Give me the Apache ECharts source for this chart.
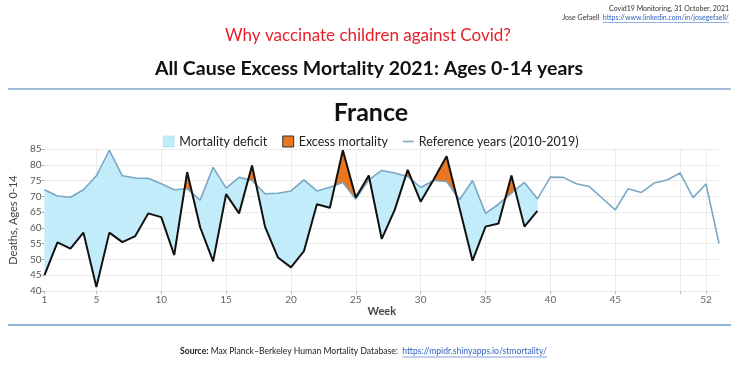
<!DOCTYPE html>
<html>
<head>
<meta charset="utf-8">
<script src="https://cdn.jsdelivr.net/npm/echarts@6/dist/echarts.min.js"></script>
<style>html,body{margin:0;padding:0;background:#fff}#c{width:740px;height:370px}</style>
</head>
<body>
<div id="c"></div>
<script>
// Weeks 1..53
var weeks = [];
for (var i = 1; i <= 53; i++) weeks.push(i);
// Reference years (2010-2019) weekly deaths, ages 0-14
var reference = [72.1,70.1,69.7,72.1,76.5,84.6,76.5,75.8,75.7,74.0,72.1,72.4,68.8,79.2,72.6,76.0,75.0,70.8,71.0,71.7,75.2,71.7,72.9,74.4,69.1,75.2,78.2,77.4,76.3,72.8,75.0,74.7,68.9,75.0,64.6,67.5,71.0,74.4,69.2,76.1,76.0,74.0,73.1,69.4,65.7,72.4,71.2,74.2,75.2,77.4,69.6,73.9,55.1];
// 2021 observed weekly deaths, weeks 1..39
var observed2021 = [45.0,55.4,53.4,58.5,41.3,58.5,55.5,57.4,64.6,63.4,51.4,77.7,60.2,49.4,70.7,64.6,79.8,60.4,50.6,47.5,52.6,67.5,66.4,84.6,69.6,76.6,56.5,65.7,78.4,68.3,75.3,82.7,66.2,49.6,60.4,61.4,76.6,60.4,65.4];
var labelWeeks = [1,5,10,15,20,25,30,35,40,45,52];
var tickWeeks = [1,5,10,15,20,25,30,35,40,45,50,52];

// Split the band between observed and reference into regions of constant sign,
// adding the points where the two curves cross.
var regions = [];
var cur = null;
for (var k = 0; k < observed2021.length; k++) {
  var o = observed2021[k], r = reference[k];
  if (!cur) { cur = { excess: o > r, pts: [] }; regions.push(cur); }
  cur.pts.push([weeks[k], o, r]);
  if (k < observed2021.length - 1) {
    var d0 = o - r;
    var d1 = observed2021[k+1] - reference[k+1];
    if (d0 * d1 < 0) {
      var t = d0 / (d0 - d1);
      var yv = o + t * (observed2021[k+1] - o);
      var xc = weeks[k] + t * (weeks[k+1] - weeks[k]);
      cur.pts.push([xc, yv, yv]);
      cur = { excess: d1 > 0, pts: [[xc, yv, yv]] };
      regions.push(cur);
    }
  }
}
var regionData = regions.map(function(rg){ return [rg.pts[0][0], rg.pts[0][2]]; });
var refData = reference.map(function(v, i){ return [weeks[i], v]; });
var obsData = observed2021.map(function(v, i){ return [weeks[i], v]; });

// text measurement for link underlines
var mctx = document.createElement('canvas').getContext('2d');
function tw(txt, font) { mctx.font = font; return mctx.measureText(txt).width; }
var LINK1 = 'https://www.linkedin.com/in/josegefaell/';
var LINK2 = 'https://mpidr.shinyapps.io/stmortality/';
var SRC_PRE = 'Max Planck\u2013Berkeley Human Mortality Database:  ';
var link1W = tw(LINK1, '7px Lato');
var srcX = 180;
var link2X = srcX + tw('Source:', 'bold 8.6px Lato') + tw(' ' + SRC_PRE, '8.6px Lato');
var link2W = tw(LINK2, '8.6px Lato');

var BLUE_FILL = '#c3ecfa', ORANGE = '#e8771f', REF = '#7ba7c4', LINK = '#2f5fbf';
var chart = echarts.init(document.getElementById('c'));
chart.setOption({
  animation: false,
  backgroundColor: '#ffffff',
  grid: { left: 34, right: 21, top: 149, bottom: 79 },
  legend: {
    left: 158, top: 130, itemGap: 15, itemWidth: 11, itemHeight: 11,
    textStyle: { fontFamily: 'Lato', fontSize: 12.5, color: '#222' },
    data: [
      { name: 'Mortality deficit', icon: 'rect', itemStyle: { color: BLUE_FILL, borderColor: '#9ad4ea', borderWidth: 0.5 } },
      { name: 'Excess mortality', icon: 'rect', itemStyle: { color: ORANGE, borderColor: '#333', borderWidth: 1 } },
      { name: 'Reference years (2010-2019)', icon: 'path://M0,4.4h11v1.6h-11z', itemStyle: { color: REF } }
    ]
  },
  xAxis: [
    { type: 'value', min: 1, max: 53, show: false },
    {
      type: 'category', data: weeks.map(String), boundaryGap: false, position: 'bottom',
      name: 'Week', nameLocation: 'middle', nameGap: 14,
      nameTextStyle: { fontFamily: 'Lato', fontSize: 11, fontWeight: 'bold', color: '#444' },
      axisLine: { show: false },
      axisTick: { show: true, length: 3, lineStyle: { color: '#bbb' },
        interval: function(idx, val){ return tickWeeks.indexOf(+val) >= 0; } },
      axisLabel: { fontFamily: 'Lato', fontSize: 10, color: '#666', margin: 4,
        interval: function(idx, val){ return labelWeeks.indexOf(+val) >= 0; } },
      splitLine: { show: true, lineStyle: { color: '#ebebeb', width: 1 },
        interval: function(idx, val){ return tickWeeks.indexOf(+val) >= 0 && +val !== 1; } }
    }
  ],
  yAxis: {
    type: 'value', min: 40, max: 85, interval: 5,
    name: 'Deaths, Ages 0-14', nameLocation: 'middle', nameGap: 20, nameRotate: 90,
    nameTextStyle: { fontFamily: 'Lato', fontSize: 11, color: '#444' },
    axisLine: { show: false },
    axisTick: { show: true, length: 3, lineStyle: { color: '#aaa' } },
    axisLabel: { fontFamily: 'Lato', fontSize: 10, color: '#555', margin: 3 },
    splitLine: { lineStyle: { color: '#ebebeb' } }
  },
  series: [
    { type: 'custom', xAxisIndex: 0, data: regionData, silent: true, z: 2,
      renderItem: function(params, api) {
        var rg = regions[params.dataIndex];
        var poly = [];
        rg.pts.forEach(function(p){ poly.push(api.coord([p[0], p[1]])); });
        for (var j = rg.pts.length - 1; j >= 0; j--) poly.push(api.coord([rg.pts[j][0], rg.pts[j][2]]));
        return { type: 'polygon', shape: { points: poly },
          style: { fill: rg.excess ? ORANGE : BLUE_FILL, stroke: rg.excess ? ORANGE : BLUE_FILL, lineWidth: 0.5 } };
      } },
    { name: 'Mortality deficit', type: 'line', xAxisIndex: 0, data: [], symbol: 'none', itemStyle: { color: BLUE_FILL } },
    { name: 'Excess mortality', type: 'line', xAxisIndex: 0, data: [], symbol: 'none', itemStyle: { color: ORANGE } },
    { name: 'Reference years (2010-2019)', type: 'line', xAxisIndex: 0, data: refData, symbol: 'none',
      itemStyle: { color: REF }, lineStyle: { color: REF, width: 1.6 }, z: 3 },
    { type: 'line', xAxisIndex: 0, data: obsData, symbol: 'none',
      lineStyle: { color: '#111', width: 2 }, z: 4 }
  ],
  graphic: [
    { type: 'text', x: 729, y: 5, style: { text: 'Covid19 Monitoring, 31 October, 2021', fontFamily: 'Lato', fontSize: 7, fill: '#333', align: 'right' } },
    { type: 'text', x: 729, y: 14, style: { text: 'Jose Gefaell  {u|' + LINK1 + '}', fontFamily: 'Lato', fontSize: 7, fill: '#333', align: 'right',
        rich: { u: { fontFamily: 'Lato', fontSize: 7, fill: LINK } } } },
    { type: 'line', shape: { x1: 729 - link1W, y1: 22.5, x2: 729, y2: 22.5 }, style: { stroke: LINK, lineWidth: 0.5 } },
    { type: 'text', x: 368, y: 36, style: { text: 'Why vaccinate children against Covid?', fontFamily: 'Lato', fontSize: 17, fill: '#e8202a', align: 'center', verticalAlign: 'middle' } },
    { type: 'text', x: 369, y: 69, style: { text: 'All Cause Excess Mortality 2021: Ages 0-14 years', fontFamily: 'Lato', fontWeight: 'bold', fontSize: 19.5, fill: '#111', align: 'center', verticalAlign: 'middle' } },
    { type: 'line', shape: { x1: 8, y1: 89, x2: 731, y2: 89 }, style: { stroke: '#86a9cf', lineWidth: 1.5 } },
    { type: 'text', x: 371, y: 113, style: { text: 'France', fontFamily: 'Lato', fontWeight: 'bold', fontSize: 25, fill: '#111', align: 'center', verticalAlign: 'middle' } },
    { type: 'line', shape: { x1: 8, y1: 325, x2: 731, y2: 325 }, style: { stroke: '#6f9ccc', lineWidth: 1.5 } },
    { type: 'text', x: srcX, y: 347, style: {
        text: '{b|Source:} ' + SRC_PRE + '{u|' + LINK2 + '}',
        fontFamily: 'Lato', fontSize: 8.6, fill: '#222',
        rich: { b: { fontFamily: 'Lato', fontSize: 8.6, fontWeight: 'bold', fill: '#222' },
                u: { fontFamily: 'Lato', fontSize: 8.6, fill: LINK } } } },
    { type: 'line', shape: { x1: link2X, y1: 357, x2: link2X + link2W, y2: 357 }, style: { stroke: LINK, lineWidth: 0.6 } }
  ]
});
</script>
</body>
</html>
